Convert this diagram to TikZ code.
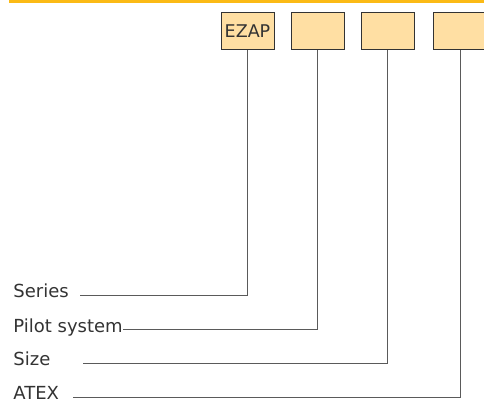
\documentclass[tikz,border=0pt]{standalone}
\usepackage{fontspec}
\setmainfont{DejaVu Sans}
\usepackage{tikz}
\definecolor{barorange}{HTML}{FBBA16}
\definecolor{lightorange}{HTML}{FFDFA3}
\definecolor{linegray}{HTML}{5A5A5A}
\definecolor{textgray}{HTML}{333333}
\tikzset{
    codebox/.style={
           rectangle,
           draw=black!80, line width=1pt,
           fill=lightorange,
           minimum width=53pt,
           minimum height=37pt,
           inner sep=0pt,
           anchor=north west,
           text=textgray,
           font=\fontsize{17.5}{20}\selectfont
           },
    keytext/.style={
           anchor=base west,
           inner sep=0pt,
           text=textgray,
           font=\fontsize{18}{21}\selectfont
           },
}
\begin{document}
\begin{tikzpicture}[x=1pt,y=-1pt,line width=0.8pt]
            \useasboundingbox (0,0) rectangle (484,402);
            \fill[barorange] (9,0) rectangle (484,3);

            % order code boxes
            \node[codebox] (SER) at (220.5,12) {EZAP};
            \node[codebox] (PIL) at (290.5,12) {};
            \node[codebox] (SIZ) at (360.5,12) {};
            \node[codebox] (ATX) at (433,12)   {}; % cut at the right edge

            % key texts
            \node[keytext] (tSER) at (13,297.5) {Series};
            \node[keytext] (tPIL) at (13,332)   {Pilot system};
            \node[keytext] (tSIZ) at (13,365.5) {Size};
            \node[keytext] (tATX) at (13,399)   {ATEX};

            % where the leader lines start
            \coordinate (cSER) at (80,295);
            \coordinate (cPIL) at (tPIL.east |- 0,329.5);
            \coordinate (cSIZ) at (83,363);
            \coordinate (cATX) at (73,397);

            \draw[linegray] (cSER) -| (SER.south);
            \draw[linegray] (cPIL) -| (PIL.south);
            \draw[linegray] (cSIZ) -| (SIZ.south);
            \draw[linegray] (cATX) -| (ATX.south);
\end{tikzpicture}
\end{document}
